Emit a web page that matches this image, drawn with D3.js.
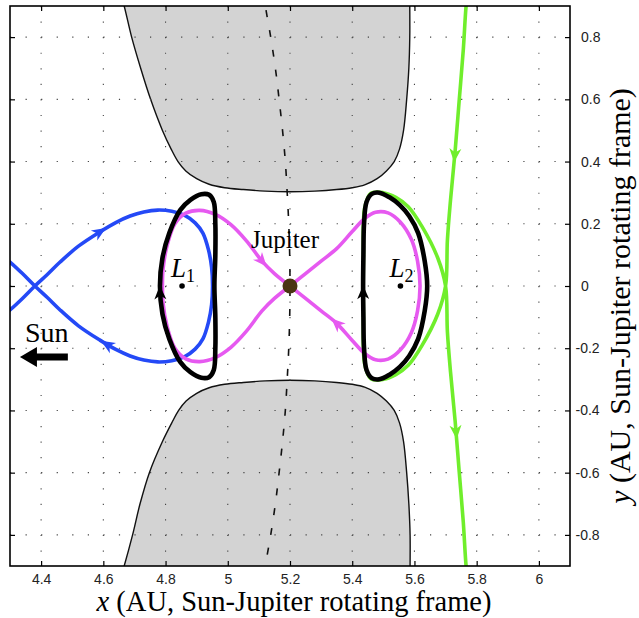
<!DOCTYPE html>
<html>
<head>
<meta charset="utf-8">
<script src="https://cdn.jsdelivr.net/npm/d3@7"></script>
<style>
  body { margin: 0; background: #fff; }
  svg text { font-family: "Liberation Sans", Arial, sans-serif; }
  .serif { font-family: "Liberation Serif", "Times New Roman", serif; }
</style>
</head>
<body>
<script>
// Tick values
var xTicks = [4.4, 4.6, 4.8, 5, 5.2, 5.4, 5.6, 5.8, 6];
var yTicks = [-0.8, -0.6, -0.4, -0.2, 0, 0.2, 0.4, 0.6, 0.8];

// Forbidden regions (x, y in AU)
var upperRegion = [[4.655, 0.94], [4.667, 0.9], [4.691, 0.8], [4.72, 0.7], [4.752, 0.6], [4.79, 0.5],
  [4.818, 0.44], [4.84, 0.40], [4.865, 0.37], [4.90, 0.345], [4.94, 0.327], [4.99, 0.316],
  [5.05, 0.31], [5.12, 0.305], [5.2, 0.303], [5.28, 0.305], [5.35, 0.31], [5.40, 0.316],
  [5.44, 0.325], [5.48, 0.345], [5.51, 0.37], [5.535, 0.40], [5.552, 0.44], [5.565, 0.5],
  [5.575, 0.6], [5.582, 0.7], [5.585, 0.8], [5.585, 0.9], [5.585, 0.94]];
var lowerRegion = [[4.655, -0.94], [4.667, -0.9], [4.694, -0.8], [4.718, -0.7], [4.748, -0.6], [4.79, -0.5],
  [4.82, -0.44], [4.842, -0.40], [4.866, -0.37], [4.90, -0.345], [4.94, -0.327], [4.99, -0.316],
  [5.05, -0.31], [5.12, -0.305], [5.2, -0.303], [5.28, -0.305], [5.35, -0.31], [5.40, -0.316],
  [5.44, -0.325], [5.48, -0.345], [5.51, -0.37], [5.535, -0.40], [5.552, -0.44], [5.565, -0.5],
  [5.575, -0.6], [5.582, -0.7], [5.586, -0.8], [5.586, -0.9], [5.586, -0.94]];

// Jupiter's orbit (dashed)
var jupiterOrbit = [[5.116, 0.95], [5.121, 0.9], [5.138, 0.8], [5.153, 0.7], [5.165, 0.6], [5.176, 0.5],
  [5.185, 0.4], [5.191, 0.3], [5.196, 0.2], [5.199, 0.1], [5.2, 0], [5.199, -0.1], [5.196, -0.2],
  [5.191, -0.3], [5.185, -0.4], [5.176, -0.5], [5.165, -0.6], [5.153, -0.7], [5.138, -0.8],
  [5.121, -0.9], [5.116, -0.95]];

// Trajectories
var blueOrbit = [[4.28, -0.093], [4.30, -0.077], [4.34, -0.040], [4.38, 0], [4.42, 0.037], [4.461, 0.077],
  [4.52, 0.128], [4.589, 0.174], [4.64, 0.204], [4.686, 0.225], [4.73, 0.238], [4.775, 0.244],
  [4.82, 0.240], [4.863, 0.226], [4.895, 0.203], [4.92, 0.17], [4.938, 0.116], [4.948, 0.06],
  [4.951, 0], [4.948, -0.06], [4.938, -0.116], [4.92, -0.17], [4.895, -0.203], [4.863, -0.226],
  [4.82, -0.240], [4.775, -0.244], [4.73, -0.238], [4.686, -0.225], [4.64, -0.204], [4.589, -0.174],
  [4.52, -0.128], [4.461, -0.077], [4.42, -0.037], [4.38, 0], [4.34, 0.040], [4.30, 0.077], [4.28, 0.093]];
var magentaLeft = [[5.2, 0], [5.15, -0.04], [5.11, -0.08], [5.06, -0.145], [5.01, -0.197], [4.96, -0.23],
  [4.91, -0.243], [4.865, -0.234], [4.83, -0.2], [4.805, -0.13], [4.792, -0.055], [4.79, 0],
  [4.792, 0.055], [4.805, 0.13], [4.83, 0.2], [4.865, 0.234], [4.91, 0.243], [4.96, 0.23],
  [5.01, 0.197], [5.06, 0.145], [5.11, 0.08], [5.15, 0.04], [5.2, 0]];
var magentaRight = [[5.2, 0], [5.25, 0.04], [5.30, 0.08], [5.35, 0.12], [5.40, 0.175], [5.44, 0.217],
  [5.475, 0.237], [5.515, 0.235], [5.555, 0.205], [5.59, 0.15], [5.61, 0.08], [5.618, 0],
  [5.61, -0.08], [5.59, -0.15], [5.555, -0.205], [5.515, -0.235], [5.475, -0.237], [5.44, -0.217],
  [5.40, -0.175], [5.35, -0.12], [5.30, -0.08], [5.25, -0.04], [5.2, 0]];
var greenOrbit = [[5.772, 0.95], [5.766, 0.90], [5.757, 0.759], [5.744, 0.598], [5.731, 0.437],
  [5.716, 0.277], [5.706, 0.148], [5.70, 0], [5.675, -0.09], [5.625, -0.19], [5.58, -0.255],
  [5.54, -0.285], [5.50, -0.30], [5.46, -0.298], [5.44, -0.25], [5.436, -0.1], [5.436, 0.1],
  [5.44, 0.25], [5.46, 0.298], [5.50, 0.30], [5.54, 0.285], [5.58, 0.255], [5.625, 0.19],
  [5.675, 0.09], [5.70, 0], [5.706, -0.148], [5.716, -0.277], [5.731, -0.437], [5.744, -0.598],
  [5.757, -0.759], [5.766, -0.90], [5.772, -0.95]];
var lyapunovL1 = [[4.782, 0], [4.79, 0.09], [4.812, 0.17], [4.847, 0.244], [4.88, 0.277], [4.915, 0.295],
  [4.94, 0.293], [4.955, 0.27], [4.96, 0.2], [4.96, 0.1], [4.957, 0], [4.96, -0.1], [4.96, -0.2],
  [4.955, -0.27], [4.94, -0.293], [4.915, -0.295], [4.88, -0.277], [4.847, -0.244], [4.812, -0.17],
  [4.79, -0.09]];
var lyapunovL2 = [[5.435, 0], [5.436, 0.1], [5.438, 0.2], [5.446, 0.27], [5.463, 0.296], [5.487, 0.300],
  [5.52, 0.285], [5.553, 0.26], [5.583, 0.225], [5.612, 0.17], [5.633, 0.08], [5.641, 0],
  [5.633, -0.08], [5.612, -0.17], [5.583, -0.225], [5.553, -0.26], [5.52, -0.285], [5.487, -0.3],
  [5.463, -0.296], [5.446, -0.27], [5.438, -0.2], [5.436, -0.1]];

// Arrow positions on each trajectory
var blueArrows = [[4.589, 0.174], [4.61, -0.19]];
var magentaArrows = [[5.11, 0.08], [5.35, -0.12]];
var greenArrows = [[5.729, 0.42], [5.735, -0.47]];
var blackArrows = [[4.782, -0.02], [5.435, -0.02]];

// Points and labels
var lagrangePoints = [{ sub: "1", x: 4.853, y: 0 }, { sub: "2", x: 5.555, y: 0 }];
var jupiter = { x: 5.2, y: 0 };
var sunArrow = [[4.486, -0.228], [4.332, -0.228]];

var width = 639, height = 618;

var x = d3.scaleLinear().domain([4.3, 6.1]).range([10, 570]);
var y = d3.scaleLinear().domain([-0.9, 0.9]).range([566, 6]);

var svg = d3.select("body").append("svg")
  .attr("width", width)
  .attr("height", height);

svg.append("clipPath").attr("id", "clip")
  .append("rect")
  .attr("x", x(4.3)).attr("y", y(0.9))
  .attr("width", x(6.1) - x(4.3)).attr("height", y(-0.9) - y(0.9));

var plot = svg.append("g").attr("clip-path", "url(#clip)");

var smooth = d3.line().x(d => x(d[0])).y(d => y(d[1])).curve(d3.curveCatmullRom.alpha(0.5));
var smoothClosed = d3.line().x(d => x(d[0])).y(d => y(d[1])).curve(d3.curveCatmullRomClosed.alpha(0.5));

// Gray forbidden regions
[upperRegion, lowerRegion].forEach(function (r) {
  plot.append("path")
    .attr("d", smooth(r) + "Z")
    .attr("fill", "#d3d3d3")
    .attr("stroke", "#111")
    .attr("stroke-width", 1.4);
});

// Dotted grid
var step = x(4.35) - x(4.3);
plot.selectAll(".vgrid").data(xTicks).enter().append("line")
  .attr("x1", d => x(d)).attr("x2", d => x(d))
  .attr("y1", y(0.9)).attr("y2", y(-0.9))
  .attr("stroke", "#444").attr("stroke-width", 1.1)
  .attr("stroke-dasharray", "1.2," + (step - 1.2));
plot.selectAll(".hgrid").data(yTicks).enter().append("line")
  .attr("y1", d => y(d)).attr("y2", d => y(d))
  .attr("x1", x(4.3)).attr("x2", x(6.1))
  .attr("stroke", "#444").attr("stroke-width", 1.1)
  .attr("stroke-dasharray", "1.2," + (step - 1.2));

// Jupiter orbit
plot.append("path")
  .attr("d", smooth(jupiterOrbit))
  .attr("fill", "none").attr("stroke", "#111")
  .attr("stroke-width", 1.6)
  .attr("stroke-dasharray", "7,13");

function trajectory(data, color, w, closed) {
  return plot.append("path")
    .attr("d", closed ? smoothClosed(data) : smooth(data))
    .attr("fill", "none")
    .attr("stroke", color)
    .attr("stroke-width", w)
    .attr("stroke-linejoin", "round");
}

function addArrows(pathSel, list, color) {
  var node = pathSel.node();
  var total = node.getTotalLength();
  list.forEach(function (a) {
    var px = x(a[0]), py = y(a[1]);
    var best = 0, bestD = Infinity;
    for (var l = 0; l <= total; l += 0.5) {
      var p = node.getPointAtLength(l);
      var dd = (p.x - px) * (p.x - px) + (p.y - py) * (p.y - py);
      if (dd < bestD) { bestD = dd; best = l; }
    }
    var p0 = node.getPointAtLength(Math.max(0, best - 2));
    var p1 = node.getPointAtLength(Math.min(total, best + 2));
    var c = node.getPointAtLength(best);
    var ang = Math.atan2(p1.y - p0.y, p1.x - p0.x) * 180 / Math.PI;
    plot.append("path")
      .attr("d", "M7,0 L-7,-6 L-3,0 L-7,6 Z")
      .attr("fill", color)
      .attr("transform", "translate(" + c.x + "," + c.y + ") rotate(" + ang + ")");
  });
}

var green = trajectory(greenOrbit, "#70ee2c", 3.6, false);
addArrows(green, greenArrows, "#70ee2c");
var blue = trajectory(blueOrbit, "#2449f6", 3.6, false);
addArrows(blue, blueArrows, "#2449f6");
var magL = trajectory(magentaLeft, "#e659f0", 3.6, false);
var magR = trajectory(magentaRight, "#e659f0", 3.6, false);
addArrows(magL, [magentaArrows[0]], "#e659f0");
addArrows(magR, [magentaArrows[1]], "#e659f0");
var bl1 = trajectory(lyapunovL1, "#000", 4.6, true);
var bl2 = trajectory(lyapunovL2, "#000", 4.6, true);
addArrows(bl1, [blackArrows[0]], "#000");
addArrows(bl2, [blackArrows[1]], "#000");

// Jupiter
plot.append("circle")
  .attr("cx", x(jupiter.x)).attr("cy", y(jupiter.y))
  .attr("r", 7.5).attr("fill", "#4a3412");
svg.append("text").attr("class", "serif")
  .attr("x", x(jupiter.x) - 5).attr("y", y(jupiter.y) - 38)
  .attr("text-anchor", "middle")
  .attr("font-size", 25)
  .text("Jupiter");

// Lagrange points
lagrangePoints.forEach(function (p) {
  plot.append("circle")
    .attr("cx", x(p.x)).attr("cy", y(p.y))
    .attr("r", 2.8).attr("fill", "#000");
  var t = svg.append("text").attr("class", "serif")
    .attr("x", x(p.x) - 11).attr("y", y(p.y) - 9)
    .attr("font-size", 27);
  t.append("tspan").attr("font-style", "italic").text("L");
  t.append("tspan").attr("font-size", 18).attr("dy", 5).text(p.sub);
});

// Sun arrow and label
svg.append("text").attr("class", "serif")
  .attr("x", x(sunArrow[1][0]) + 5).attr("y", y(sunArrow[0][1]) - 15)
  .attr("font-size", 28)
  .text("Sun");
var sx0 = x(sunArrow[0][0]), sx1 = x(sunArrow[1][0]), sy = y(sunArrow[0][1]);
svg.append("line")
  .attr("x1", sx0).attr("x2", sx1 + 14)
  .attr("y1", sy).attr("y2", sy)
  .attr("stroke", "#000").attr("stroke-width", 7);
svg.append("path")
  .attr("d", "M" + sx1 + "," + sy + " L" + (sx1 + 17) + "," + (sy - 10) + " L" + (sx1 + 17) + "," + (sy + 10) + " Z")
  .attr("fill", "#000");

// Axes: ticks pointing inward on all four sides
function styleAxis(g) {
  g.select(".domain").remove();
  g.selectAll(".tick line").attr("stroke", "#000").attr("stroke-width", 1.2);
  g.selectAll(".tick text").attr("font-size", 14).attr("fill", "#222")
    .attr("font-family", "Liberation Sans, Arial, sans-serif");
}

svg.append("g")
  .attr("transform", "translate(0," + y(-0.9) + ")")
  .call(d3.axisBottom(x).tickValues(xTicks).tickSizeInner(-5).tickSizeOuter(0)
    .tickPadding(8).tickFormat(d => String(d)))
  .call(styleAxis);
svg.append("g")
  .attr("transform", "translate(0," + y(0.9) + ")")
  .call(d3.axisTop(x).tickValues(xTicks).tickSizeInner(-5).tickSizeOuter(0).tickFormat(""))
  .call(styleAxis);
svg.append("g")
  .attr("transform", "translate(" + x(4.3) + ",0)")
  .call(d3.axisLeft(y).tickValues(yTicks).tickSizeInner(-5).tickSizeOuter(0).tickFormat(""))
  .call(styleAxis);
var yr = svg.append("g")
  .attr("transform", "translate(" + x(6.1) + ",0)")
  .call(d3.axisRight(y).tickValues(yTicks).tickSizeInner(-5).tickSizeOuter(0)
    .tickPadding(11).tickFormat(d => String(d)))
  .call(styleAxis);
yr.selectAll(".tick text").attr("dx", d => d < 0 ? -5.5 : 0);

// Frame
svg.append("rect")
  .attr("x", x(4.3)).attr("y", y(0.9))
  .attr("width", x(6.1) - x(4.3)).attr("height", y(-0.9) - y(0.9))
  .attr("fill", "none").attr("stroke", "#000").attr("stroke-width", 1.6);

// Axis titles
var xt = svg.append("text").attr("class", "serif")
  .attr("x", (x(4.3) + x(6.1)) / 2 + 4).attr("y", 611)
  .attr("text-anchor", "middle").attr("font-size", 28.5);
xt.append("tspan").attr("font-style", "italic").text("x");
xt.append("tspan").text(" (AU, Sun-Jupiter rotating frame)");

var yt = svg.append("text").attr("class", "serif")
  .attr("transform", "translate(630,296) rotate(-90)")
  .attr("text-anchor", "middle").attr("font-size", 30);
yt.append("tspan").attr("font-style", "italic").text("y");
yt.append("tspan").text(" (AU, Sun-Jupiter rotating frame)");
</script>
</body>
</html>
